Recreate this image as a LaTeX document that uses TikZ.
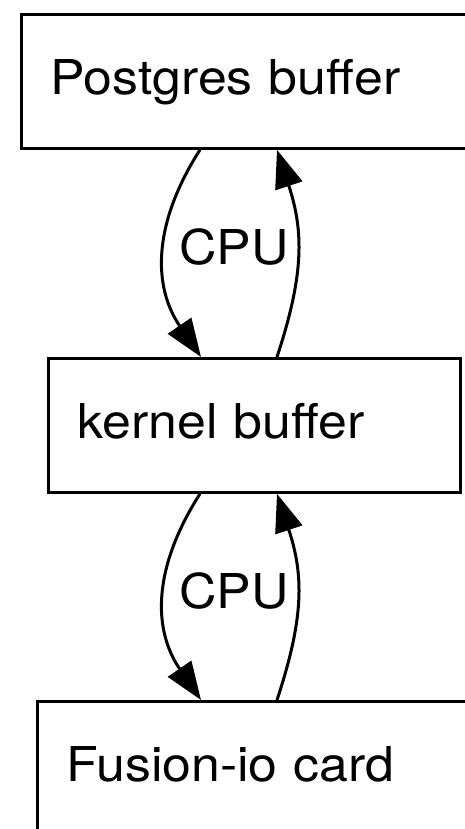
\documentclass[tikz,border=0pt]{standalone}
\usepackage{fontspec}
\setmainfont{TeX Gyre Heros}[FakeStretch=1.08]
\usepackage{tikz}
\tikzstyle{block} = [rectangle, draw=black, line width=1.4pt, anchor=north west, minimum height=67pt, inner xsep=14.5pt, text height=18pt, text depth=4.5pt, align=left, font=\fontsize{24}{28}\selectfont]
\tikzstyle{arrow} = [line width=1.5pt, -{Triangle[length=19pt, width=14pt]}]
\tikzstyle{lbl} = [font=\fontsize{24}{28}\selectfont]
\usetikzlibrary{arrows.meta}

\begin{document}
\begin{tikzpicture}[x=0.5pt, y=-0.5pt]
        \useasboundingbox (0,0) rectangle (465,829);
        \clip (0,0) rectangle (465,829);
        \node (pg) [block, text width=201pt] at (20,13) {Postgres buffer};
        \node (kb) [block, text width=177pt] at (47,357) {kernel buffer};
        \node (fio) [block, text width=193pt] at (36,700) {Fusion-io card};
        \node (cpu1) [lbl] at (234,247) {CPU};
        \node (cpu2) [lbl] at (234,591) {CPU};
        \draw [arrow] ([xshift=90pt]pg.south west) .. controls +(-48,75) and +(-48,-70) .. ([xshift=77pt]kb.north west);
        \draw [arrow] ([xshift=115pt]kb.north west) .. controls +(27,-82) and +(27,82) .. ([xshift=128.5pt]pg.south west);
        \draw [arrow] ([xshift=76.5pt]kb.south west) .. controls +(-48,75) and +(-48,-70) .. ([xshift=82.5pt]fio.north west);
        \draw [arrow] ([xshift=120.5pt]fio.north west) .. controls +(27,-82) and +(27,82) .. ([xshift=115pt]kb.south west);
    \end{tikzpicture}
\end{document}
